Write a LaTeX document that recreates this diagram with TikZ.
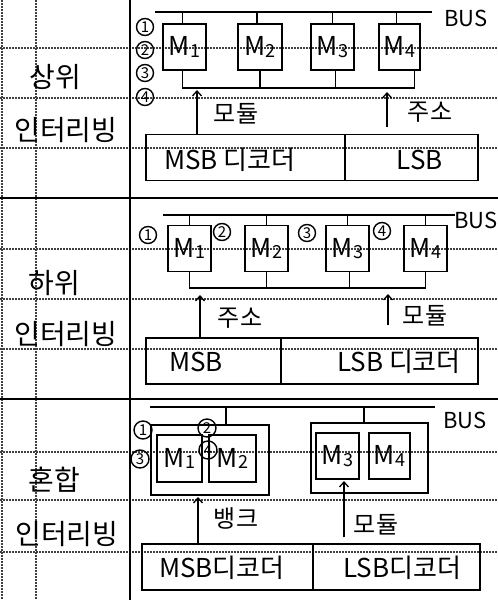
\documentclass[tikz,border=0pt]{standalone}
\usepackage{fontspec}
\setmainfont{Noto Sans CJK KR}
\usetikzlibrary{arrows.meta}
\newcommand\modlbl[1]{M\raisebox{-1.5pt}{\fontsize{18}{18}\selectfont #1}}
\begin{document}
\begin{tikzpicture}[x=1pt,y=-1pt,
  ln/.style={line width=1.3pt},
  gridln/.style={draw=black!75,line width=1.2pt,dash pattern=on 1.5pt off 1.5pt},
  rule/.style={line width=1.8pt},
  mod/.style={draw,line width=1.3pt,minimum width=#1,minimum height=46pt,inner sep=0pt,font=\fontsize{26}{26}\selectfont},
  grp/.style={draw,line width=1.3pt,minimum width=#1,minimum height=70pt,inner sep=0pt},
  dec/.style={draw,line width=1.3pt,minimum width=#1,minimum height=46pt,inner sep=0pt},
  num/.style={draw,circle,line width=1.4pt,minimum size=17pt,inner sep=0pt,font=\fontsize{15}{15}\selectfont},
  side/.style={font=\fontsize{28}{28}\selectfont,inner sep=0pt},
  lbl/.style={font=\fontsize{24}{24}\selectfont,inner sep=0pt},
  dtxt/.style={font=\fontsize{26}{26}\selectfont,inner sep=0pt},
  bustxt/.style={font=\fontsize{22}{22}\selectfont,inner sep=0pt},
  arr/.style={line width=1.3pt,-{Straight Barb[length=5pt,width=9pt]}}
]
\useasboundingbox (0,0) rectangle (498,600);
% notebook grid
\foreach \yy in {48,98,148,249,299,349,452,500,552}{
  \path[gridln] (0,\yy) -- (498,\yy);
}
\path[gridln] (2,0) -- (2,600);
\path[gridln] (36,0) -- (36,600);
% rules
\draw[rule] (130,0) -- (130,600);
\draw[rule] (0,198) -- (498,198);
\draw[rule] (0,399) -- (498,399);

% ===== Section 1 =====
\node[side] (s1a) at (55,77) {상위};
\node[side] (s1b) at (66,130) {인터리빙};
\coordinate (b1L) at (155,12);
\coordinate (b1R) at (432,12);
\draw[ln] (b1L) -- (b1R);
\node[bustxt] (bus1) at (466,18) {BUS};
\node[mod=43] (m11) at (184.5,47) {\modlbl{1}};
\node[mod=44] (m12) at (260,47) {\modlbl{2}};
\node[mod=43] (m13) at (332.5,47) {\modlbl{3}};
\node[mod=41] (m14) at (399.5,47) {\modlbl{4}};
\foreach \m/\s in {m11/-2,m12/-3,m13/0,m14/-3}
  \draw[ln] ([xshift=\s]\m.north) -- ([xshift=\s]\m.north |- b1L);
\coordinate (l1) at (0,88);
\draw[ln] ([xshift=-2]m11.south) -- ([xshift=-2]m11.south |- l1) -- ([xshift=15]m14.south |- l1) -- ([xshift=15]m14.south);
\draw[ln] (m12.south) -- (m12.south |- l1);
\draw[ln] ([xshift=3]m13.south) -- ([xshift=3]m13.south |- l1);
\node[num] (n11) at (145,27) {1};
\node[num] (n12) at (145,50) {2};
\node[num] (n13) at (145,73) {3};
\node[num] (n14) at (145,97) {4};
\node[dec=199] (msb1) at (245.5,157.5) {};
\node[dec=133] (lsb1) at (411.5,157.5) {};
\node[dtxt] (t11) at (230,160) {MSB 디코더};
\node[dtxt] (t12) at (420,160) {LSB};
\coordinate (c11) at (197,90);
\coordinate (c12) at (387,92);
\draw[arr] (msb1.north -| c11) -- (c11);
\draw[arr,shorten <=7pt] (lsb1.north -| c12) -- (c12);
\node[lbl] (a11) at (236,114) {모듈};
\node[lbl] (a12) at (430,112) {주소};

% ===== Section 2 =====
\node[side] (s2a) at (54,283) {하위};
\node[side] (s2b) at (66,334) {인터리빙};
\coordinate (b2L) at (163,215);
\coordinate (b2R) at (455,215);
\draw[ln] (b2L) -- (b2R);
\node[bustxt] (bus2) at (476,220) {BUS};
\node[mod=43] (m21) at (189.5,248.5) {\modlbl{1}};
\node[mod=43] (m22) at (266.5,248.5) {\modlbl{2}};
\node[mod=43] (m23) at (347.5,248.5) {\modlbl{3}};
\node[mod=43] (m24) at (425.5,248.5) {\modlbl{4}};
\foreach \m in {m21,m22,m23,m24}
  \draw[ln] (\m.north) -- (\m.north |- b2L);
\coordinate (l2) at (0,288);
\draw[ln] (m21.south) -- (m21.south |- l2) -- (m24.south |- l2) -- (m24.south);
\draw[ln] (m22.south) -- (m22.south |- l2);
\draw[ln] ([xshift=2]m23.south) -- ([xshift=2]m23.south |- l2);
\node[num] (n21) at (148,235) {1};
\node[num] (n22) at (222,232) {2};
\node[num] (n23) at (307,233) {3};
\node[num] (n24) at (382,231) {4};
\node[dec=135] (msb2) at (213.5,361) {};
\node[dec=197] (lsb2) at (379.5,361) {};
\node[dtxt] (t21) at (196,362) {MSB};
\node[dtxt] (t22) at (399,362) {LSB 디코더};
\coordinate (c21) at (200,295);
\coordinate (c22) at (388,294);
\draw[arr] (msb2.north -| c21) -- (c21);
\draw[arr,shorten <=12pt] (lsb2.north -| c22) -- (c22);
\node[lbl] (a21) at (240,318) {주소};
\node[lbl] (a22) at (425,316) {모듈};

% ===== Section 3 =====
\node[side] (s3a) at (54,480) {혼합};
\node[side] (s3b) at (67,534) {인터리빙};
\coordinate (b3L) at (150,407);
\coordinate (b3R) at (435,407);
\draw[ln] (b3L) -- (b3R);
\node[bustxt] (bus3) at (465,420) {BUS};
\node[grp=118] (g1) at (210,460) {};
\node[grp=117] (g2) at (369.5,458) {};
\draw[ln] ([xshift=16]g1.north) -- ([xshift=16]g1.north |- b3L);
\draw[ln] ([xshift=-5.5]g2.north) -- ([xshift=-5.5]g2.north |- b3L);
\node[mod=45,minimum height=47pt] (m31) at (179.5,458.5) {\modlbl{1}};
\node[mod=47,minimum height=47pt] (m32) at (232.5,458.5) {\modlbl{2}};
\node[mod=43] (m33) at (337.5,456) {\modlbl{3}};
\node[mod=41] (m34) at (389.5,456) {\modlbl{4}};
\node[num,minimum size=18pt] (n31) at (143,430) {1};
\node[num,minimum size=18pt] (n32) at (207,428) {2};
\node[num,minimum size=18pt] (n33) at (140,459) {3};
\node[num,minimum size=18pt] (n34) at (208,450) {4};
\node[dec=171] (msb3) at (227.5,567) {};
\node[dec=167] (lsb3) at (396.5,567) {};
\node[dtxt] (t31) at (222,568) {MSB디코더};
\node[dtxt] (t32) at (402,568) {LSB디코더};
\coordinate (c31) at (198,497);
\coordinate (c32) at (344,481);
\draw[arr] (msb3.north -| c31) -- (c31);
\draw[arr,shorten <=6pt] (lsb3.north -| c32) -- (c32);
\node[lbl] (a31) at (236,518) {뱅크};
\node[lbl] (a32) at (376,525) {모듈};
\end{tikzpicture}
\end{document}
